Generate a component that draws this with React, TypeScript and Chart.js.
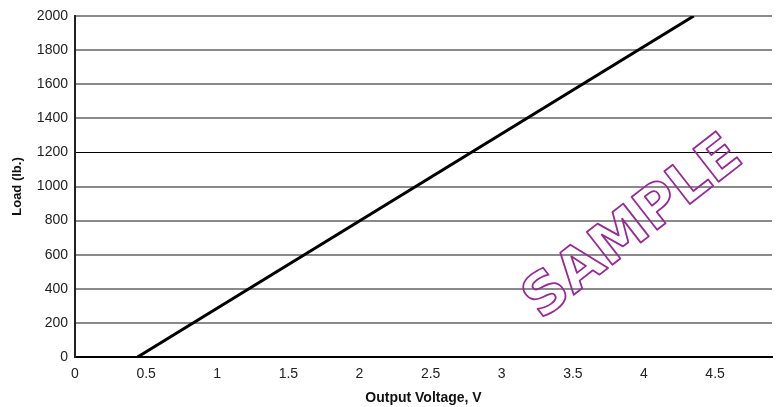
import React, { useEffect, useRef } from "react";
import { Chart, registerables } from "chart.js";

Chart.register(...registerables);

const voltage = [0.44, 4.35];
const load = [0, 2000];
const xTickValues = [0, 0.5, 1, 1.5, 2, 2.5, 3, 3.5, 4, 4.5];
const watermarkText = "SAMPLE";

const watermarkPlugin = {
  id: "watermark",
  afterDraw(chart: any) {
    const ctx = chart.ctx;
    ctx.save();
    ctx.translate(634, 229);
    ctx.rotate((-38 * Math.PI) / 180);
    ctx.font = "bold 57px 'DejaVu Sans', sans-serif";
    ctx.textAlign = "center";
    ctx.textBaseline = "middle";
    ctx.lineWidth = 1.8;
    ctx.strokeStyle = "#982a98";
    ctx.lineJoin = "round";
    ctx.strokeText(watermarkText, 0, 0);
    ctx.restore();
  },
};

export default function App() {
  const ref = useRef<HTMLCanvasElement | null>(null);
  useEffect(() => {
    document.body.style.margin = "0";
    const canvas = ref.current!;
    const chart = new Chart(canvas, {
      type: "scatter",
      data: {
        datasets: [
          {
            data: voltage.map((v, i) => ({ x: v, y: load[i] })),
            showLine: true,
            borderColor: "#000",
            borderWidth: 3,
            pointRadius: 0,
            fill: false,
          },
        ],
      },
      options: {
        animation: false,
        responsive: false,
        devicePixelRatio: 1,
        layout: { padding: { top: 16, right: 4, left: 0, bottom: 0 } },
        plugins: { legend: { display: false }, tooltip: { enabled: false } },
        scales: {
          x: {
            type: "linear",
            min: 0,
            max: 4.9,
            afterBuildTicks: (scale: any) => {
              scale.ticks = xTickValues.map((v) => ({ value: v }));
            },
            afterFit: (scale: any) => {
              scale.height = 50;
            },
            grid: { display: false },
            border: { display: true, color: "#000", width: 2 },
            ticks: {
              padding: 1,
              color: "#222",
              font: { family: "'Liberation Sans', Arial, sans-serif", size: 14 },
              maxRotation: 0,
              autoSkip: false,
              callback: (v: any) => String(v),
            },
            title: {
              display: true,
              text: "Output Voltage, V",
              color: "#111",
              padding: { top: 0, bottom: 0 },
              font: { family: "'Liberation Sans', Arial, sans-serif", size: 14, weight: "bold" },
            },
          },
          y: {
            min: 0,
            max: 2000,
            afterFit: (scale: any) => {
              scale.width = 75;
            },
            ticks: {
              stepSize: 200,
              padding: 7,
              color: "#222",
              font: { family: "'Liberation Sans', Arial, sans-serif", size: 14 },
              callback: (v: any) => String(v),
            },
            grid: {
              drawTicks: false,
              color: (c: any) => (c.tick && c.tick.value === 1200 ? "#000" : "#8a8a8a"),
              lineWidth: (c: any) => (c.tick && c.tick.value === 1200 ? 1 : 2),
            },
            border: { display: true, color: "#222", width: 2 },
            title: {
              display: true,
              text: "Load (lb.)",
              color: "#111",
              padding: { top: 10, bottom: 10 },
              font: { family: "'Liberation Sans', Arial, sans-serif", size: 13, weight: "bold" },
            },
          },
        },
      },
      plugins: [watermarkPlugin],
    } as any);
    return () => chart.destroy();
  }, []);
  return (
    <div style={{ position: "absolute", left: 0, top: 0, width: 776, height: 407 }}>
      <canvas ref={ref} width={776} height={407} />
    </div>
  );
}
